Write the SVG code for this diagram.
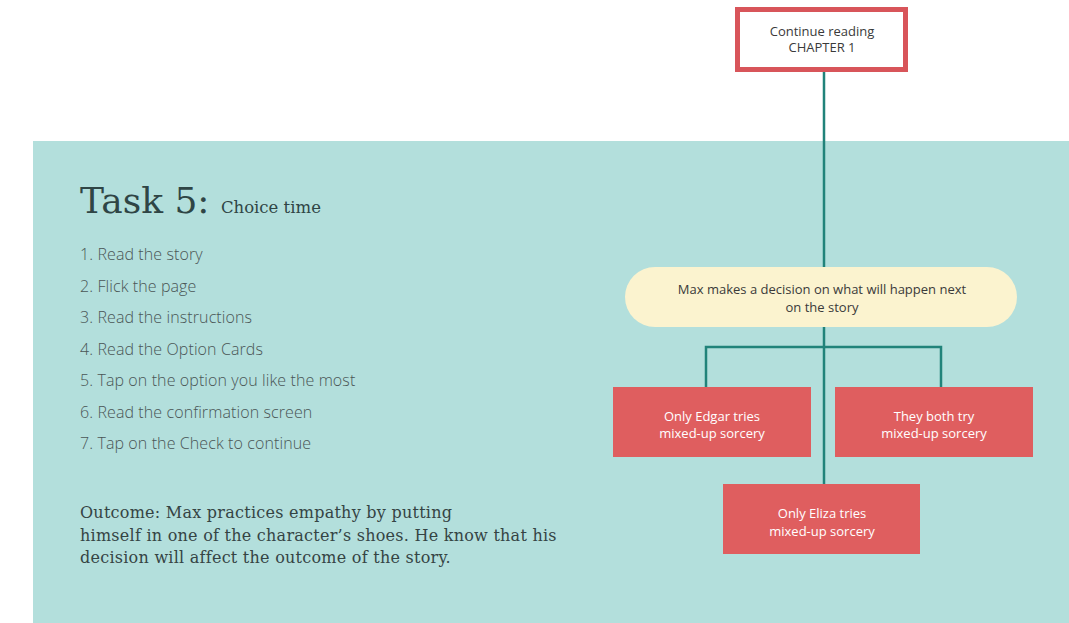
<svg xmlns="http://www.w3.org/2000/svg" width="1069" height="623" viewBox="0 0 1069 623">
<style>
.title{font-family:"DejaVu Serif",serif;fill:#2f4545}
.item{font-family:"Open Sans","Liberation Sans",sans-serif;font-weight:300;font-size:16px;letter-spacing:0.1px;fill:#4a5656}
.out{font-family:"DejaVu Serif",serif;font-size:16px;letter-spacing:0.25px;fill:#354444}
.small{font-family:"Open Sans","Liberation Sans",sans-serif;font-size:13px;text-anchor:middle}
.dark{fill:#3a3a3a}
.white{fill:#ffffff}
.card{fill:#df5e5f}
.conn{stroke:#21837a;stroke-width:2.5;fill:none}
</style>
<rect x="0" y="0" width="1069" height="623" fill="#ffffff"/>
<rect x="33" y="141" width="1036" height="482" fill="#b3dfdc"/>
<g id="connectors">
<line class="conn" x1="824" y1="72" x2="824" y2="485"/>
<polyline class="conn" points="706,388 706,347 941,347 941,388"/>
</g>
<g id="task-text">
<text class="title" x="80" y="213" font-size="36">Task 5: <tspan font-size="16.5">Choice time</tspan></text>
<text class="item" x="80" y="260">1. Read the story</text>
<text class="item" x="80" y="292">2. Flick the page</text>
<text class="item" x="80" y="323">3. Read the instructions</text>
<text class="item" x="80" y="355">4. Read the Option Cards</text>
<text class="item" x="80" y="386">5. Tap on the option you like the most</text>
<text class="item" x="80" y="418">6. Read the confirmation screen</text>
<text class="item" x="80" y="449">7. Tap on the Check to continue</text>
<text class="out" x="80" y="518">Outcome: Max practices empathy by putting</text>
<text class="out" x="80" y="541">himself in one of the character’s shoes. He know that his</text>
<text class="out" x="80" y="563">decision will affect the outcome of the story.</text>
</g>
<g id="node-chapter">
<rect x="737.5" y="9.5" width="168" height="60" fill="#ffffff" stroke="#d8555a" stroke-width="5"/>
<text class="small dark" x="822" y="36" font-size="12">Continue reading</text>
<text class="small dark" x="822" y="52" font-size="12">CHAPTER 1</text>
</g>
<g id="node-decision">
<rect x="625" y="267" width="392" height="60" rx="30" fill="#fbf3cf"/>
<text class="small dark" x="822" y="294">Max makes a decision on what will happen next</text>
<text class="small dark" x="822" y="312">on the story</text>
</g>
<g id="node-edgar">
<rect class="card" x="613" y="387" width="198" height="70"/>
<text class="small white" x="712" y="421">Only Edgar tries</text>
<text class="small white" x="712" y="438">mixed-up sorcery</text>
</g>
<g id="node-both">
<rect class="card" x="835" y="387" width="198" height="70"/>
<text class="small white" x="934" y="421">They both try</text>
<text class="small white" x="934" y="438">mixed-up sorcery</text>
</g>
<g id="node-eliza">
<rect class="card" x="723" y="484" width="197" height="70"/>
<text class="small white" x="822" y="518">Only Eliza tries</text>
<text class="small white" x="822" y="536">mixed-up sorcery</text>
</g>
</svg>
